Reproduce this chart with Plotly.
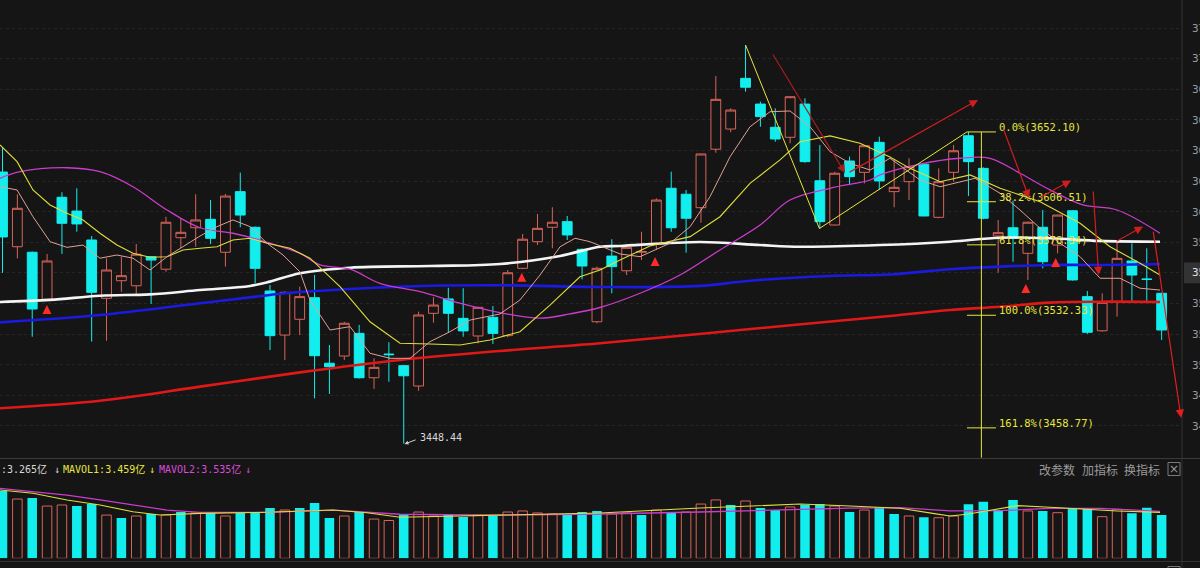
import plotly.graph_objects as go

# ---------------- data ----------------
candle_idx = list(range(79))
opens = [3625.9, 3577.1, 3573.5, 3542.8, 3609.4, 3600.4, 3581.5, 3543.4, 3554.9, 3551.6,
         3570.6, 3562.4, 3583.0, 3589.5, 3595.0, 3573.5, 3613.1, 3589.8, 3548.2, 3519.4,
         3529.7, 3543.8, 3501.0, 3505.7, 3520.5, 3491.5, 3507.0, 3499.4, 3486.1, 3533.6,
         3543.0, 3530.3, 3518.8, 3531.0, 3519.0, 3563.0, 3580.4, 3589.8, 3593.5, 3575.4,
         3528.1, 3571.0, 3561.4, 3573.5, 3579.3, 3615.3, 3611.4, 3602.6, 3640.8, 3654.0,
         3687.1, 3670.3, 3655.1, 3648.6, 3670.3, 3620.2, 3591.3, 3633.1, 3625.7, 3645.3,
         3613.1, 3619.6, 3631.0, 3596.3, 3625.7, 3649.6, 3628.3, 3584.1, 3589.5, 3572.8,
         3589.8, 3578.2, 3600.6, 3544.5, 3522.2, 3541.2, 3567.8, 3556.0, 3546.7]
highs = [3641.6, 3611.4, 3574.0, 3572.4, 3612.7, 3615.3, 3584.1, 3569.5, 3570.6, 3578.9,
         3571.0, 3596.7, 3595.7, 3611.4, 3607.6, 3611.6, 3625.5, 3590.3, 3552.1, 3548.0,
         3551.0, 3558.6, 3512.9, 3528.1, 3526.0, 3504.2, 3514.7, 3499.8, 3534.7, 3544.1,
         3550.3, 3550.0, 3538.0, 3538.4, 3561.9, 3585.4, 3598.5, 3602.9, 3597.2, 3576.0,
         3564.1, 3582.0, 3577.0, 3586.9, 3608.7, 3626.1, 3614.2, 3638.0, 3688.6, 3667.5,
         3708.9, 3671.9, 3667.5, 3675.5, 3674.1, 3643.6, 3626.1, 3636.0, 3643.5, 3649.0,
         3633.8, 3634.9, 3631.5, 3628.3, 3643.6, 3652.1, 3629.0, 3594.6, 3607.2, 3593.5,
         3601.1, 3598.0, 3601.0, 3548.2, 3546.7, 3580.4, 3579.3, 3576.1, 3547.0]
lows = [3560.0, 3569.5, 3518.3, 3542.0, 3572.4, 3586.9, 3515.1, 3515.7, 3547.7, 3545.1,
        3539.7, 3560.8, 3576.1, 3577.1, 3578.9, 3564.1, 3589.8, 3553.2, 3509.6, 3503.1,
        3519.4, 3478.1, 3480.9, 3503.1, 3491.0, 3484.2, 3488.9, 3448.44, 3483.0, 3527.5,
        3520.9, 3518.3, 3514.0, 3513.6, 3517.9, 3562.5, 3578.2, 3576.1, 3581.5, 3555.8,
        3527.1, 3546.7, 3558.6, 3568.4, 3575.0, 3586.9, 3573.2, 3592.8, 3638.5, 3651.9,
        3678.4, 3655.5, 3645.7, 3644.7, 3632.0, 3589.0, 3591.0, 3617.4, 3618.5, 3614.2,
        3602.9, 3607.6, 3597.0, 3595.7, 3619.6, 3610.2, 3595.0, 3560.1, 3567.3, 3555.4,
        3563.0, 3572.8, 3555.0, 3520.1, 3521.6, 3531.4, 3541.2, 3540.5, 3516.2]
closes = [3583.5, 3602.2, 3536.4, 3567.8, 3592.4, 3592.0, 3547.3, 3561.9, 3558.2, 3572.2,
          3568.4, 3593.1, 3586.5, 3594.6, 3582.6, 3610.2, 3597.8, 3563.0, 3519.0, 3547.3,
          3544.5, 3505.9, 3498.7, 3527.1, 3491.5, 3498.3, 3506.6, 3492.8, 3532.5, 3539.0,
          3533.6, 3522.1, 3537.5, 3520.5, 3560.1, 3582.0, 3589.1, 3593.1, 3584.8, 3564.5,
          3563.0, 3564.1, 3576.7, 3574.0, 3607.6, 3589.5, 3595.7, 3637.7, 3673.4, 3666.4,
          3681.3, 3662.1, 3647.5, 3675.1, 3632.7, 3593.5, 3625.1, 3622.9, 3643.1, 3620.1,
          3615.9, 3629.4, 3597.2, 3619.6, 3639.8, 3632.7, 3595.7, 3586.3, 3582.6, 3593.1,
          3567.3, 3597.8, 3555.4, 3521.2, 3540.8, 3569.5, 3558.6, 3555.8, 3522.7]
volumes = [5.07, 4.47, 4.55, 3.94, 4.02, 3.94, 4.09, 3.26, 3.04, 3.19,
           3.34, 3.26, 3.49, 3.42, 3.49, 3.19, 3.49, 3.49, 3.79, 3.64,
           3.79, 4.17, 3.04, 3.19, 3.49, 2.96, 2.85, 3.34, 3.49, 3.19,
           3.26, 3.11, 3.26, 3.19, 3.49, 3.57, 3.42, 3.34, 3.26, 3.49,
           3.57, 3.34, 3.42, 3.26, 3.64, 3.49, 3.49, 4.09, 4.40, 4.02,
           4.32, 3.79, 3.64, 3.87, 4.02, 4.09, 3.94, 3.49, 3.64, 3.87,
           3.34, 3.19, 3.09, 3.06, 3.19, 4.07, 4.27, 3.64, 4.40, 3.57,
           3.57, 3.44, 3.72, 3.72, 3.14, 3.69, 3.39, 3.82, 3.265]
prev_close = 3600.0  # close of the bar before the first visible one

ma5_pos = [-0.17, 0.98, 2.05, 3.20, 4.34, 5.42, 6.56, 7.70, 8.78, 9.93, 11.07, 12.15, 13.29, 14.43, 15.51,
           16.66, 17.80, 18.88, 20.02, 20.69, 22.04, 23.39, 24.73, 26.08, 27.42, 28.77, 30.11, 31.46, 33.48,
           34.82, 36.17, 37.52, 38.53, 39.53, 41.55, 42.90, 44.92, 46.27, 47.61, 48.96, 50.30, 51.65, 52.99,
           54.34, 55.69, 57.03, 58.38, 59.72, 61.74, 63.09, 64.43, 65.44, 67.13, 68.47, 69.82, 71.16, 72.51,
           73.86, 75.20, 76.55, 77.89]
ma5_val = [3616.3, 3614.2, 3596.7, 3580.4, 3576.7, 3578.2, 3569.6, 3571.7, 3569.6, 3561.9, 3570.6, 3577.1,
           3584.1, 3590.2, 3594.6, 3590.2, 3579.4, 3571.7, 3560.6, 3542.3, 3522.7, 3524.9, 3507.5, 3504.2,
           3504.2, 3515.1, 3521.6, 3529.2, 3533.2, 3542.3, 3558.6, 3577.1, 3582.6, 3580.4, 3572.4, 3570.6,
           3579.4, 3590.2, 3609.8, 3635.9, 3655.5, 3665.3, 3665.8, 3655.5, 3639.2, 3631.6, 3627.2, 3634.9,
           3620.7, 3616.3, 3619.6, 3621.8, 3612.0, 3601.1, 3589.2, 3579.4, 3570.6, 3556.5, 3556.5, 3550.0,
           3548.8]
ma10_pos = [-0.17, 0.98, 2.05, 3.20, 4.34, 5.42, 6.56, 7.70, 8.78, 9.93, 11.07, 12.15, 13.29, 14.43, 15.51,
            16.66, 17.80, 19.35, 20.69, 22.71, 24.73, 26.75, 28.77, 30.79, 32.81, 34.82, 36.84, 38.86, 40.21,
            41.55, 43.57, 46.27, 48.28, 50.30, 52.32, 53.67, 55.69, 57.70, 59.72, 61.07, 63.09, 65.11, 67.13,
            69.82, 72.51, 74.53, 76.55, 77.89]
ma10_val = [3643.6, 3632.7, 3614.2, 3604.4, 3598.9, 3594.6, 3585.9, 3578.2, 3572.8, 3570.2, 3570.6, 3575.0,
            3576.1, 3577.1, 3581.5, 3582.6, 3579.4, 3576.1, 3569.6, 3551.0, 3528.1, 3514.0, 3513.6, 3512.9,
            3516.2, 3521.6, 3539.0, 3557.5, 3561.9, 3568.4, 3577.6, 3583.7, 3596.7, 3618.5, 3633.8, 3645.7,
            3649.5, 3644.7, 3635.7, 3628.3, 3619.6, 3624.0, 3615.3, 3606.5, 3592.4, 3577.1, 3566.3, 3558.6]
ma20_pos = [-0.17, 1.18, 4.34, 6.56, 8.78, 11.07, 13.29, 15.51, 17.80, 20.02, 21.37, 23.39, 25.40, 28.10,
            30.79, 33.48, 36.17, 38.19, 40.21, 42.90, 45.59, 48.28, 50.98, 52.99, 55.69, 58.38, 59.05, 61.74,
            64.43, 66.45, 68.47, 70.49, 72.70, 75.00, 77.89]
ma20_val = [3621.8, 3626.1, 3628.7, 3626.1, 3616.3, 3601.1, 3589.5, 3585.9, 3580.0, 3572.8, 3565.2, 3562.4,
            3553.2, 3547.7, 3540.2, 3534.0, 3530.4, 3533.2, 3537.4, 3546.7, 3558.6, 3575.0, 3591.3, 3607.6,
            3615.3, 3620.7, 3624.0, 3631.1, 3634.9, 3634.9, 3625.1, 3614.2, 3604.4, 3601.1, 3585.9]
ma60_pos = [-0.17, 3.20, 6.56, 9.93, 13.29, 16.66, 18.00, 20.02, 23.39, 28.77, 33.48, 37.52, 40.21, 41.55,
            46.94, 50.98, 53.67, 59.05, 63.76, 67.13, 70.49, 73.86, 77.89]
ma60_val = [3541.0, 3542.4, 3545.1, 3546.0, 3548.8, 3551.5, 3554.3, 3559.8, 3563.4, 3564.5, 3565.8, 3571.1,
            3577.1, 3577.6, 3580.2, 3578.2, 3577.1, 3578.2, 3580.4, 3583.0, 3582.6, 3580.9, 3580.4]
ma120_pos = [-0.17, 6.56, 13.29, 18.00, 20.02, 26.75, 33.48, 40.21, 46.94, 50.30, 55.69, 59.72, 63.76,
             67.13, 70.49, 73.86, 77.89]
ma120_val = [3527.7, 3532.5, 3540.2, 3545.6, 3547.5, 3551.0, 3551.9, 3550.8, 3551.5, 3554.9, 3558.0, 3559.0,
             3562.4, 3564.1, 3565.2, 3565.2, 3565.8]
ma250_pos = [-0.17, 6.56, 13.29, 20.02, 26.75, 33.48, 40.21, 49.63, 59.72, 63.76, 67.13, 70.49, 73.86, 77.89]
ma250_val = [3471.6, 3476.5, 3485.7, 3495.0, 3503.1, 3509.0, 3514.0, 3522.7, 3531.9, 3535.8, 3537.9, 3540.6,
             3541.2, 3541.0]

mavol1_pos = [-0.17, 2.05, 4.34, 6.56, 8.78, 10.60, 13.29, 17.80, 22.24, 24.53, 26.75, 33.48, 40.21, 46.94,
              53.67, 57.03, 60.40, 62.60, 63.76, 64.90, 66.70, 68.30, 70.49, 72.70, 75.00, 77.89]
mavol1_val = [5.15, 4.90, 4.40, 4.02, 3.51, 3.26, 3.39, 3.47, 3.64, 3.44, 3.09, 3.26, 3.42, 3.79, 4.09, 3.94,
              3.77, 3.39, 3.19, 3.32, 3.64, 3.97, 3.85, 3.69, 3.57, 3.46]
mavol2_pos = [-0.17, 4.34, 6.56, 11.07, 13.29, 17.80, 22.24, 26.75, 33.48, 40.21, 46.94, 53.67, 57.03, 60.40,
              63.76, 67.13, 70.49, 73.86, 76.10, 77.89]
mavol2_val = [5.28, 4.77, 4.40, 3.64, 3.47, 3.47, 3.64, 3.32, 3.26, 3.34, 3.49, 3.72, 3.79, 3.82, 3.57, 3.59,
              3.77, 3.77, 3.64, 3.54]

price_ticks = [3460, 3480, 3500, 3520, 3540, 3560, 3580, 3600, 3620, 3640, 3660, 3680, 3700, 3720]
price_tick_text = ["3460.00", "3480.00", "3500.00", "3520.00", "3540.00", "", "3580.00",
                   "3600.00", "3620.00", "3640.00", "3660.00", "3680.00", "3700.00", "3720.00"]
highlight_price = 3560
highlight_text = "3560.00"

fib_levels = [3652.10, 3606.51, 3578.34, 3532.33, 3458.77]
fib_labels = ["0.0%(3652.10)", "38.2%(3606.51)", "61.8%(3578.34)", "100.0%(3532.33)", "161.8%(3458.77)"]
fib_tick_from, fib_tick_to, fib_axis_pos = 64.9, 66.85, 65.87

trend_pos = [50, 54.97, 64.9]
trend_val = [3708.9, 3589.0, 3652.1]

# drawn arrows: (tail_pos, tail_price, head_pos, head_price, colour)
drawn_arrows = [
    (51.78, 3703.7, 56.70, 3625.3, "#a81c1c"),
    (56.90, 3625.3, 65.64, 3673.0, "#d01e1e"),
    (67.33, 3654.7, 69.08, 3608.9, "#d01e1e"),
    (69.68, 3608.6, 71.90, 3620.4, "#d01e1e"),
    (73.39, 3614.2, 73.76, 3558.6, "#d01e1e"),
    (74.87, 3580.2, 76.75, 3590.3, "#d01e1e"),
    (77.42, 3588.0, 79.31, 3465.2, "#e01e1e"),
]
signal_pos = [2.99, 34.94, 43.91, 68.86, 70.87]
signal_val = [3539.0, 3560.1, 3570.4, 3552.8, 3569.7]

low_value_text = "3448.44"

# ---------------- styling ----------------
BG = "#151515"
CYAN = "#12eeee"
RED = "#d8645a"
W, H = 1200, 568
PLOT_RIGHT = 1182 / W
MAIN_BOTTOM = 1 - 458 / H
VOL_BOTTOM = 1 - 558.3 / H
VOL_TOP = 1 - 478 / H

fig = go.Figure()

fig.add_trace(go.Candlestick(
    x=candle_idx, open=opens, high=highs, low=lows, close=closes,
    increasing=dict(line=dict(color=RED, width=1), fillcolor=BG),
    decreasing=dict(line=dict(color=CYAN, width=1), fillcolor=CYAN),
    whiskerwidth=0, hoverinfo="skip", xaxis="x", yaxis="y"))

def add_line(pos, val, color, width, yaxis="y", xaxis="x", shape="linear"):
    fig.add_trace(go.Scatter(x=pos, y=val, mode="lines", xaxis=xaxis, yaxis=yaxis,
                             line=dict(color=color, width=width, shape=shape),
                             hoverinfo="skip"))

add_line(ma250_pos, ma250_val, "#e01818", 2.6, shape="spline")
add_line(ma120_pos, ma120_val, "#1a1ae0", 2.6, shape="spline")
add_line(ma60_pos, ma60_val, "#f4f4f4", 2.6, shape="spline")
add_line(ma20_pos, ma20_val, "#cc3ccc", 1.3, shape="spline")
add_line(ma10_pos, ma10_val, "#dede3a", 1.1)
add_line(ma5_pos, ma5_val, "#e0a096", 1.0)

# yellow trend polyline
add_line(trend_pos, trend_val, "#e6e640", 1.0)

# signal arrows
fig.add_trace(go.Scatter(x=signal_pos, y=signal_val, mode="markers", hoverinfo="skip",
                         marker=dict(symbol="arrow-up", size=9, color="#ff2a2a",
                                     line=dict(width=0))))

# volume bars
vol_up = []
for i, c in enumerate(closes):
    ref = closes[i - 1] if i > 0 else prev_close
    vol_up.append(c >= ref)
fig.add_trace(go.Bar(
    x=candle_idx, y=volumes, xaxis="x2", yaxis="y2", width=0.64, hoverinfo="skip",
    marker=dict(color=[BG if u else CYAN for u in vol_up],
                line=dict(color=[RED if u else CYAN for u in vol_up],
                          width=[1 if u else 0 for u in vol_up]))))
add_line(mavol2_pos, mavol2_val, "#cc3ccc", 1.3, yaxis="y2", xaxis="x2")
add_line(mavol1_pos, mavol1_val, "#dede3a", 1.1, yaxis="y2", xaxis="x2")

shapes = []
# panel separators and right axis line
shapes.append(dict(type="line", xref="paper", yref="paper", x0=0, x1=1, y0=1 - 458.5 / H, y1=1 - 458.5 / H,
                   line=dict(color="#3a3a3a", width=1)))
shapes.append(dict(type="line", xref="paper", yref="paper", x0=0, x1=1, y0=1 - 561.5 / H, y1=1 - 561.5 / H,
                   line=dict(color="#333333", width=1)))
shapes.append(dict(type="line", xref="paper", yref="paper", x0=PLOT_RIGHT, x1=PLOT_RIGHT, y0=0, y1=1,
                   line=dict(color="#333333", width=1)))
# highlighted axis label box
shapes.append(dict(type="rect", xref="paper", yref="y", x0=1184 / W, x1=1.0,
                   y0=highlight_price - 6.8, y1=highlight_price + 6.8,
                   fillcolor="#333333", line=dict(width=0)))
# fibonacci tool
shapes.append(dict(type="line", xref="x", yref="y", x0=fib_axis_pos, x1=fib_axis_pos,
                   y0=fib_levels[0], y1=3439.3, line=dict(color="#e6e640", width=1)))
for lv in fib_levels:
    shapes.append(dict(type="line", xref="x", yref="y", x0=fib_tick_from, x1=fib_tick_to, y0=lv, y1=lv,
                       line=dict(color="#e6e640", width=1)))

annotations = []
for lv, lab in zip(fib_levels, fib_labels):
    annotations.append(dict(x=fib_tick_to + 0.05, y=lv, xref="x", yref="y", text=lab, showarrow=False,
                            xanchor="left", yanchor="middle", yshift=5,
                            font=dict(family="DejaVu Sans Mono", size=10.5, color="#e6e640")))
for tx, ty, hx, hy, col in drawn_arrows:
    annotations.append(dict(x=hx, y=hy, ax=tx, ay=ty, xref="x", yref="y", axref="x", ayref="y",
                            text="", showarrow=True, arrowhead=2, arrowsize=1.4, arrowwidth=1.2,
                            arrowcolor=col, standoff=0))
# lowest-point label
annotations.append(dict(x=27.05, y=3448.2, ax=27.9, ay=3451.3, xref="x", yref="y", axref="x", ayref="y",
                        text="", showarrow=True, arrowhead=2, arrowsize=0.8, arrowwidth=1,
                        arrowcolor="#d0d0d0", standoff=0))
annotations.append(dict(x=27.96, y=3452.6, xref="x", yref="y", text=low_value_text, showarrow=False,
                        xanchor="left", yanchor="middle",
                        font=dict(family="DejaVu Sans Mono", size=10, color="#d8d8d8")))

# highlighted axis label text
annotations.append(dict(x=1190 / W, y=highlight_price, xref="paper", yref="y", text=highlight_text,
                        showarrow=False, xanchor="left", yanchor="middle",
                        font=dict(family="DejaVu Sans Mono", size=11, color="#e0e0e0")))

def px_text(text, x, y, color, size=10, family="DejaVu Sans Mono, Noto Sans CJK SC", anchor="left"):
    annotations.append(dict(x=x / W, y=1 - y / H, xref="paper", yref="paper", text=text, showarrow=False,
                            xanchor=anchor, yanchor="middle", font=dict(family=family, size=size, color=color)))

px_text(":3.265亿", -1, 469, "#d8d8d8")
px_text("↓", 52, 469, "#d8d8d8")
px_text("MAVOL1:3.459亿", 61, 469, "#e6e640")
px_text("↓", 147, 469, "#e6e640")
px_text("MAVOL2:3.535亿", 157, 469, "#d84cd8")
px_text("↓", 243, 469, "#d84cd8")
for row_y in (469, 573):
    px_text("改参数", 1057, row_y, "#9a9a9a", size=12, family="Noto Sans CJK SC", anchor="center")
    px_text("加指标", 1100, row_y, "#9a9a9a", size=12, family="Noto Sans CJK SC", anchor="center")
    px_text("换指标", 1142, row_y, "#9a9a9a", size=12, family="Noto Sans CJK SC", anchor="center")
    px_text("×", 1174, row_y, "#9a9a9a", size=12, family="DejaVu Sans", anchor="center")
    shapes.append(dict(type="rect", xref="paper", yref="paper", x0=1168 / W, x1=1180 / W,
                       y0=1 - (row_y + 6.5) / H, y1=1 - (row_y - 6.5) / H,
                       line=dict(color="#7a7a7a", width=1)))

fig.update_layout(
    template="none",
    width=W, height=H, margin=dict(l=0, r=0, t=0, b=0, pad=0, autoexpand=False),
    paper_bgcolor=BG, plot_bgcolor=BG, showlegend=False, hovermode=False,
    boxgap=0.34, boxgroupgap=0,
    xaxis=dict(domain=[0, PLOT_RIGHT], range=[-0.168, 79.37], anchor="y", showticklabels=False,
               showgrid=False, zeroline=False, showline=False, ticks="", automargin=False,
               rangeslider=dict(visible=False), fixedrange=True),
    yaxis=dict(domain=[MAIN_BOTTOM, 1], range=[3439.08, 3738.29], side="right", anchor="x",
               tickmode="array", tickvals=price_ticks, ticktext=price_tick_text, automargin=False,
               ticks="", ticklabelstandoff=9, showgrid=True, gridcolor="#262626", griddash="dot",
               gridwidth=1, zeroline=False, showline=False,
               tickfont=dict(family="DejaVu Sans Mono", size=11, color="#9a9a9a")),
    xaxis2=dict(domain=[0, PLOT_RIGHT], matches="x", anchor="y2", showticklabels=False, ticks="",
                showgrid=False, zeroline=False, showline=False, automargin=False),
    yaxis2=dict(domain=[VOL_BOTTOM, VOL_TOP], range=[0, 6.055], anchor="x2", side="right", ticks="",
                showticklabels=False, showgrid=False, zeroline=False, showline=False, automargin=False),
    shapes=shapes, annotations=annotations,
)

fig.write_html("out.html")
